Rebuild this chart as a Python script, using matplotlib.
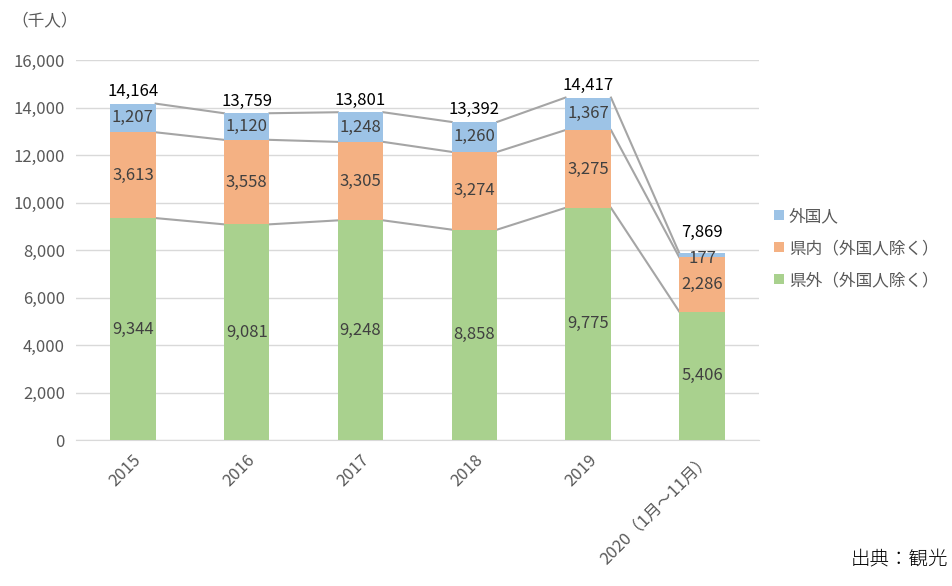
import matplotlib.pyplot as plt
import numpy as np

plt.rcParams['font.family'] = ['Noto Sans CJK JP', 'DejaVu Sans']

# 年別の観光客数（千人）
years = ['2015', '2016', '2017', '2018', '2019', '2020（1月～11月）']
kengai = [9344, 9081, 9248, 8858, 9775, 5406]      # 県外（外国人除く）
kennai = [3613, 3558, 3305, 3274, 3275, 2286]      # 県内（外国人除く）
gaikoku = [1207, 1120, 1248, 1260, 1367, 177]      # 外国人
totals = [14164, 13759, 13801, 13392, 14417, 7869]

c_green = '#A9D18E'
c_orange = '#F4B183'
c_blue = '#9DC3E6'
txt = '#404040'

fig = plt.figure(figsize=(9.53, 5.86), dpi=100)
ax = fig.add_axes([0.0797, 0.2491, 0.7167, 0.6485])

x = np.arange(len(years))
width = 0.4
kengai = np.array(kengai)
kennai = np.array(kennai)
gaikoku = np.array(gaikoku)

b1 = ax.bar(x, kengai, width=width, color=c_green, label='県外（外国人除く）', zorder=3)
b2 = ax.bar(x, kennai, width=width, bottom=kengai, color=c_orange, label='県内（外国人除く）', zorder=3)
b3 = ax.bar(x, gaikoku, width=width, bottom=kengai + kennai, color=c_blue, label='外国人', zorder=3)

# 区分線（棒の上端どうしを結ぶ）
levels = [kengai, kengai + kennai, kengai + kennai + gaikoku]
for lv in levels:
    for i in range(len(x) - 1):
        ax.plot([x[i] + width / 2, x[i + 1] - width / 2], [lv[i], lv[i + 1]],
                color='#A5A5A5', lw=1.5, zorder=2)

# 値ラベル
for i in range(len(x)):
    ax.text(x[i], kengai[i] / 2, f'{kengai[i]:,}', ha='center', va='center', fontsize=12, color=txt, zorder=4)
    ax.text(x[i], kengai[i] + kennai[i] / 2, f'{kennai[i]:,}', ha='center', va='center', fontsize=12, color=txt, zorder=4)
    if gaikoku[i] < 500:
        # 外国人が小さい棒はラベルを少し下げ、合計を上にずらす
        ax.text(x[i], kengai[i] + kennai[i] + gaikoku[i] / 2 - 120, f'{gaikoku[i]:,}', ha='center', va='center',
                fontsize=12, color=txt, zorder=4)
        off = 500
    else:
        ax.text(x[i], kengai[i] + kennai[i] + gaikoku[i] / 2, f'{gaikoku[i]:,}', ha='center', va='center',
                fontsize=12, color=txt, zorder=4)
        off = 150
    ax.text(x[i], totals[i] + off, f'{totals[i]:,}', ha='center', va='bottom', fontsize=12, color='black', zorder=4)

ax.set_xlim(-0.5, len(x) - 0.5)
ax.set_ylim(0, 16000)
ax.set_yticks(np.arange(0, 16001, 2000))
ax.set_yticklabels([f'{v:,}' for v in range(0, 16001, 2000)], fontsize=12, color='#595959')
ax.set_xticks(x)
ax.set_xticklabels(years, rotation=45, ha='right', rotation_mode='anchor', fontsize=12, color='#595959')
ax.tick_params(length=0, pad=8)
ax.grid(axis='y', color='#D9D9D9', lw=1, zorder=0)
for s in ['top', 'right', 'left']:
    ax.spines[s].set_visible(False)
ax.spines['bottom'].set_color('#D9D9D9')

g = [b3, b2, b1]
ax.legend(g, [h.get_label() for h in g], loc='upper left', bbox_to_anchor=(1.0, 0.65),
          frameon=False, fontsize=12, handlelength=0.6, handleheight=0.6,
          handletextpad=0.3, labelspacing=0.9, labelcolor='#595959')

fig.text(0.012, 0.965, '（千人）', fontsize=12, color='#595959', va='center')
fig.text(0.995, 0.045, '出典：観光', fontsize=14, color='black', ha='right', va='center',
         fontweight='light')

plt.savefig('out.png', dpi=100)
